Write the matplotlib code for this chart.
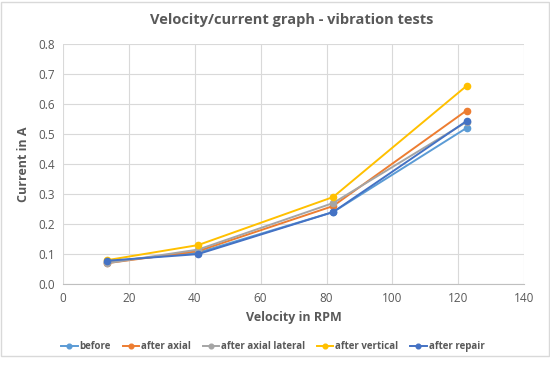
import matplotlib.pyplot as plt
from matplotlib.patches import Rectangle

# Dados
rpm = [13.5, 41, 82, 122.5]
series = ["before", "after axial", "after axial lateral", "after vertical", "after repair"]
before = [0.075, 0.105, 0.24, 0.52]
after_axial = [0.07, 0.11, 0.26, 0.578]
after_axial_lateral = [0.07, 0.115, 0.27, 0.54]
after_vertical = [0.08, 0.13, 0.29, 0.66]
after_repair = [0.078, 0.10, 0.24, 0.543]
colors = ["#5B9BD5", "#ED7D31", "#A5A5A5", "#FFC000", "#4472C4"]

plt.rcParams['font.family'] = ['Open Sans', 'DejaVu Sans']

fig = plt.figure(figsize=(5.5, 3.69), dpi=100)
ax = fig.add_axes([0.1145, 0.23, 0.8385, 0.651])

for nome, vals, cor in zip(series, [before, after_axial, after_axial_lateral, after_vertical, after_repair], colors):
    ax.plot(rpm, vals, color=cor, marker='o', markersize=4.5, linewidth=1.4, label=nome)

ax.set_xlim(0, 140)
ax.set_ylim(0, 0.8)
ax.set_xticks(range(0, 141, 20))
ax.set_yticks([i / 10 for i in range(9)])
ax.set_yticklabels([f"{i / 10:.1f}" for i in range(9)])
ax.tick_params(length=0, labelsize=8.5, colors='#595959', pad=6)
ax.grid(True, color='#D9D9D9', linewidth=0.8)
ax.set_axisbelow(True)
for s in ['top', 'right', 'left']:
    ax.spines[s].set_visible(False)
ax.spines['bottom'].set_color('#BFBFBF')

ax.set_xlabel('Velocity in RPM', fontsize=9, fontweight='bold', color='#595959', labelpad=4)
ax.set_ylabel('Current in A', fontsize=9, fontweight='bold', color='#595959', labelpad=6)
fig.text(0.53, 0.945, 'Velocity/current graph - vibration tests', ha='center', va='center',
         fontsize=10.5, fontweight='bold', color='#595959')

ax.legend(loc='upper center', bbox_to_anchor=(0.455, -0.2), ncol=5, frameon=False,
          handlelength=1.7, handletextpad=0.2, columnspacing=1.2, markerscale=0.75,
          labelcolor='#595959', prop={'weight': 'bold', 'size': 7})

fig.patches.append(Rectangle((0.002, 0.035), 0.996, 0.96, transform=fig.transFigure,
                             fill=False, edgecolor='#D9D9D9', linewidth=1))

plt.savefig('out.png', dpi=100)
